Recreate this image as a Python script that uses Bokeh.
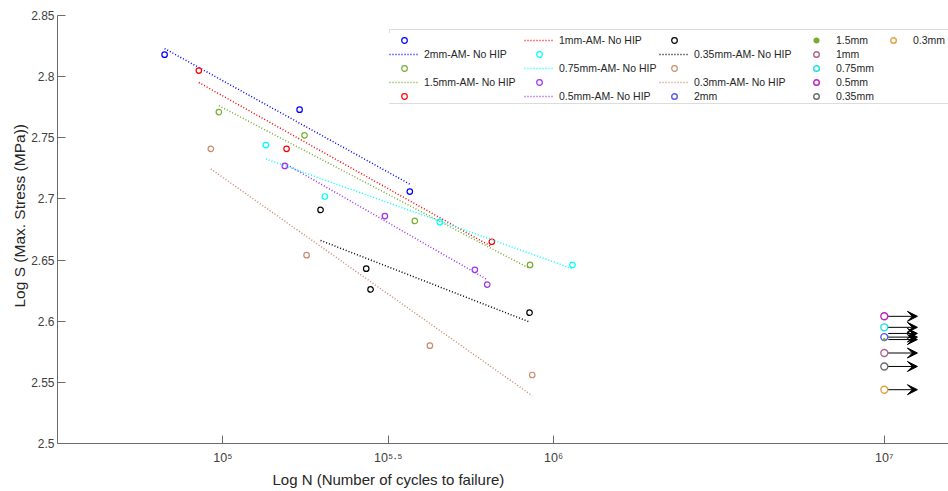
import numpy as np
from bokeh.plotting import figure
from bokeh.models import (Range1d, FixedTicker, Legend, LegendItem, Title,
                          ColumnDataSource, Arrow, VeeHead, BoxAnnotation)
from bokeh.core.properties import value
from bokeh.embed import file_html
from bokeh.resources import INLINE

# ---------------- data ----------------
# N = cycles to failure, S = log10(max. stress in MPa)
n_2mm = [66650, 170600, 367500]
s_2mm = [2.818, 2.773, 2.706]
n_1p5mm = [97250, 176600, 380500, 848700]
s_1p5mm = [2.771, 2.752, 2.682, 2.646]
n_1mm = [84600, 155800, 650500]
s_1mm = [2.805, 2.741, 2.665]
n_0p75mm = [134900, 203400, 452900, 1140500]
s_0p75mm = [2.744, 2.702, 2.681, 2.646]
n_0p5mm = [153900, 308900, 577900, 630000]
s_0p5mm = [2.727, 2.686, 2.642, 2.630]
n_0p35mm = [197400, 271300, 279600, 845800]
s_0p35mm = [2.691, 2.643, 2.626, 2.607]
n_0p3mm = [91950, 179100, 422600, 861700]
s_0p3mm = [2.741, 2.654, 2.580, 2.556]

series_names = ["2mm", "1.5mm", "1mm", "0.75mm", "0.5mm", "0.35mm", "0.3mm"]

# run-outs (no failure) at 10^7 cycles
runout_labels = ["2mm", "1.5mm", "1mm", "0.75mm", "0.5mm", "0.35mm", "0.3mm"]
runout_N = [1e7, 1e7, 1e7, 1e7, 1e7, 1e7, 1e7]
runout_s = [2.587, 2.585, 2.574, 2.595, 2.604, 2.563, 2.544]
arrow_s = [2.604, 2.595, 2.590, 2.587, 2.585, 2.574, 2.563, 2.544]

xtick_values = [1e5, 10 ** 5.5, 1e6, 1e7]
xtick_labels = ["10\u2075", "10\u2075\u00b7\u2075", "10\u2076", "10\u2077"]
ytick_values = [2.5, 2.55, 2.6, 2.65, 2.7, 2.75, 2.8, 2.85]
ytick_labels = ["2.5", "2.55", "2.6", "2.65", "2.7", "2.75", "2.8", "2.85"]

x_title = "Log N (Number of cycles to failure)"
y_title = "Log S (Max. Stress (MPa))"

# ---------------- style / layout ----------------
FONT = "Liberation Sans"
series_colors = ["#0000ff", "#77ac30", "#ff0000", "#00ffff", "#a030f0", "#000000", "#c98b70"]
runout_colors = ["#5a5af0", "#77ac30", "#b0648c", "#1ee0e0", "#c21fc2", "#6b6b6b", "#e0a445"]
AX = "#6b6b6b"
TXT = "#404040"
W, H = 948, 491
B_LEFT, B_RIGHT, B_TOP, B_BOTTOM = 57, 0, 15, 48

p = figure(width=W, height=H, x_axis_type="log",
           x_range=Range1d(10 ** 4.5, 10 ** 7.194), y_range=Range1d(2.5, 2.85),
           output_backend="svg", toolbar_location=None,
           min_border_left=B_LEFT, min_border_right=B_RIGHT,
           min_border_top=B_TOP, min_border_bottom=B_BOTTOM)
p.outline_line_color = None
p.xgrid.grid_line_color = None
p.ygrid.grid_line_color = None
p.background_fill_color = "white"
p.border_fill_color = "white"

for ax in (p.xaxis[0], p.yaxis[0]):
    ax.axis_line_color = AX
    ax.major_tick_line_color = AX
    ax.major_tick_in = 8
    ax.major_tick_out = 0
    ax.minor_tick_line_color = None
    ax.major_label_text_font = FONT
    ax.major_label_text_color = TXT
    ax.major_label_text_font_size = "12px"

p.yaxis.ticker = FixedTicker(ticks=ytick_values)
p.yaxis.major_label_overrides = dict(zip(ytick_values, ytick_labels))
p.yaxis.major_label_standoff = 3

p.xaxis.ticker = FixedTicker(ticks=xtick_values)
p.xaxis.major_label_overrides = dict(zip(xtick_values, xtick_labels))
p.xaxis.major_label_text_font_size = "12.5px"
p.xaxis.major_label_standoff = 7

# axis titles (placed as side titles so they can sit off-centre like the original)
p.add_layout(Title(text=x_title, align="left", offset=215, standoff=3,
                   text_font=FONT, text_font_size="15px", text_font_style="normal",
                   text_color="#262626"), "below")
p.add_layout(Title(text=y_title, align="left", offset=136, standoff=2,
                   text_font=FONT, text_font_size="15.5px", text_font_style="normal",
                   text_color="#262626"), "left")

# ---------------- data series ----------------
all_n = [n_2mm, n_1p5mm, n_1mm, n_0p75mm, n_0p5mm, n_0p35mm, n_0p3mm]
all_s = [s_2mm, s_1p5mm, s_1mm, s_0p75mm, s_0p5mm, s_0p35mm, s_0p3mm]

items = []
for name, n, s, col in zip(series_names, all_n, all_s, series_colors):
    src = ColumnDataSource(dict(N=n, S=s))
    r_pts = p.scatter("N", "S", source=src, marker="circle", size=5.5,
                      fill_color=None, line_color=col, line_width=1.2)
    logn = np.log10(n)
    slope, icpt = np.polyfit(logn, s, 1)
    xs = np.array([logn.min(), logn.max()])
    fsrc = ColumnDataSource(dict(N=10 ** xs, S=icpt + slope * xs))
    r_line = p.line("N", "S", source=fsrc, line_color=col, line_width=1.5, line_dash="1 2")
    items.append(LegendItem(label=value(" "), renderers=[r_pts]))
    items.append(LegendItem(label=value(f"{name}-AM- No HIP"), renderers=[r_line]))

for lab, n, s, col in zip(runout_labels, runout_N, runout_s, runout_colors):
    src = ColumnDataSource(dict(N=[n], S=[s]))
    if lab == "1.5mm":
        r = p.scatter("N", "S", source=src, marker="circle", size=2.5,
                      fill_color=col, line_color=col, line_width=0.5)
    else:
        r = p.scatter("N", "S", source=src, marker="circle", size=7,
                      fill_color=None, line_color=col, line_width=1.4)
    items.append(LegendItem(label=value(lab), renderers=[r]))

for s in arrow_s:
    p.add_layout(Arrow(end=VeeHead(size=10, fill_color="black", line_color="black", line_width=1),
                       x_start=runout_N[0] * 10 ** 0.012, y_start=s,
                       x_end=runout_N[0] * 10 ** 0.1, y_end=s,
                       line_color="black", line_width=1))

# ---------------- legend (two blocks inside one box) ----------------
leg_common = dict(orientation="vertical", nrows=5, margin=0, padding=2, spacing=0,
                  glyph_width=30, glyph_height=14, label_height=14, label_standoff=5,
                  label_text_font=FONT, label_text_font_size="10.5px",
                  label_text_color="#262626", border_line_color=None,
                  background_fill_color="white", background_fill_alpha=1)
legend_a = Legend(items=items[:15], location=(389 - B_LEFT, 340), label_width=100, **leg_common)
legend_b = Legend(items=items[15:], location=(801 - B_LEFT, 340), label_width=42, **leg_common)
p.add_layout(legend_a)
p.add_layout(legend_b)
p.add_layout(BoxAnnotation(left=389, right=W + 20, top=29, bottom=103,
                           left_units="canvas", right_units="canvas",
                           top_units="canvas", bottom_units="canvas",
                           fill_color=None, line_color="#8c8c8c", line_width=1))

open("out.html", "w").write(file_html(p, INLINE))
